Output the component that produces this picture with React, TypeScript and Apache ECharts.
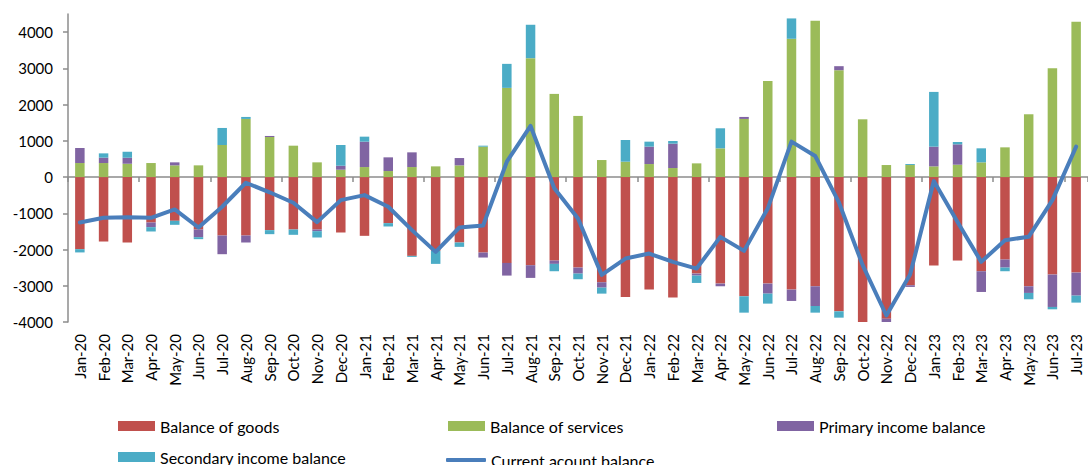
import React, { useEffect, useRef } from "react";
import * as echarts from "echarts";

const categories = [
  "Jan-20","Feb-20","Mar-20","Apr-20","May-20","Jun-20","Jul-20","Aug-20","Sep-20","Oct-20","Nov-20","Dec-20",
  "Jan-21","Feb-21","Mar-21","Apr-21","May-21","Jun-21","Jul-21","Aug-21","Sep-21","Oct-21","Nov-21","Dec-21",
  "Jan-22","Feb-22","Mar-22","Apr-22","May-22","Jun-22","Jul-22","Aug-22","Sep-22","Oct-22","Nov-22","Dec-22",
  "Jan-23","Feb-23","Mar-23","Apr-23","May-23","Jun-23","Jul-23"
];

const goods = [
  -1990,-1779,-1806,-1253,-1207,-1447,-1613,-1613,-1465,-1447,-1447,-1530,
  -1622,-1272,-2175,-2037,-1806,-2083,-2369,-2433,-2304,-2498,-2903,-3309,
  -3106,-3327,-2664,-2940,-3290,-2940,-3106,-3014,-3705,-4018,-3908,-2986,
  -2442,-2304,-2599,-2276,-3014,-2691,-2636
];

const services = [
  387,387,369,387,323,323,885,1604,1106,866,406,203,
  276,166,276,295,323,839,2461,3281,2295,1687,470,424,
  359,249,378,793,1604,2654,3816,4313,2949,1594,332,332,
  295,341,406,820,1733,3005,4286
];

const primary = [
  415,148,166,-129,83,-212,-516,-193,28,0,-46,110,
  701,378,406,0,202,-138,-350,-350,-92,-166,-148,0,
  480,673,-55,-74,55,-277,-313,-544,111,0,-110,-46,
  544,562,-572,-222,-184,-894,-636
];

const secondary = [
  -90,119,165,-120,-111,-55,470,55,-111,-147,-175,572,
  138,-92,-28,-359,-120,27,663,922,-203,-156,-166,599,
  138,73,-203,553,-452,-276,562,-184,-175,0,0,27,
  1511,65,387,-101,-175,-65,-193
];

const current = [
  -1253,-1124,-1106,-1124,-894,-1392,-820,-157,-420,-710,-1244,-636,
  -498,-820,-1465,-2065,-1392,-1336,424,1410,-310,-1143,-2700,-2249,
  -2111,-2341,-2525,-1650,-2037,-866,977,581,-700,-2430,-3820,-2690,
  -111,-1240,-2341,-1742,-1650,-636,839
];

const yTicks = [-4000,-3000,-2000,-1000,0,1000,2000,3000,4000];

const FONT = "Lato";

export default function App() {
  const ref = useRef<HTMLDivElement>(null);

  useEffect(() => {
    document.body.style.margin = "0";
    if (!ref.current) return;
    const chart = echarts.init(ref.current, null, { renderer: "svg" });

    const barSeries = (name: string, data: number[], color: string) => ({
      name,
      type: "bar",
      stack: "total",
      data,
      barWidth: "40%",
      itemStyle: { color },
      xAxisIndex: 0,
      yAxisIndex: 0,
    });

    const legendText = { fontFamily: FONT, fontSize: 16, color: "#000" };
    const mkLegend = (name: string, left: number, top: number, isLine = false) => ({
      data: [{ name, icon: isLine ? "roundRect" : "rect" }],
      left,
      top: isLine ? top + 3 : top,
      itemWidth: isLine ? 40 : 37,
      itemHeight: isLine ? 4 : 10,
      itemGap: 5,
      textStyle: legendText,
      selectedMode: false,
    });

    chart.setOption({
      animation: false,
      backgroundColor: "#fff",
      grid: { left: 68, right: 0, top: 14, bottom: 143, containLabel: false },
      legend: [
        mkLegend("Balance of goods", 113, 413),
        mkLegend("Balance of services", 443, 413),
        mkLegend("Primary income balance", 772, 413),
        mkLegend("Secondary income balance", 113, 444),
        mkLegend("Current acount balance", 441, 444, true),
      ],
      xAxis: [
        {
          type: "category",
          data: categories,
          position: "bottom",
          axisLine: { onZero: true, lineStyle: { color: "#8c8c8c", width: 1.5 } },
          axisTick: { show: true, length: 5, lineStyle: { color: "#8c8c8c", width: 1.5 } },
          axisLabel: { show: false },
          splitLine: { show: false },
        },
        {
          type: "category",
          data: categories,
          position: "bottom",
          axisLine: { show: false, onZero: false },
          axisTick: { show: false },
          axisLabel: {
            show: true,
            rotate: 90,
            interval: 0,
            margin: 12,
            fontFamily: FONT,
            fontSize: 15,
            color: "#000",
          },
          splitLine: { show: false },
        },
      ],
      yAxis: {
        type: "value",
        min: -4000,
        max: 4500,
        interval: 500,
        axisLine: { show: true, lineStyle: { color: "#8c8c8c", width: 1.5 } },
        axisTick: { show: true, length: 5, customValues: yTicks, lineStyle: { color: "#8c8c8c", width: 1.5 } },
        axisLabel: {
          customValues: yTicks,
          formatter: (v: number) => String(v),
          margin: 15,
          fontFamily: FONT,
          fontSize: 15,
          color: "#000",
        },
        splitLine: { show: false },
      },
      series: [
        barSeries("Balance of goods", goods, "#C0504D"),
        barSeries("Balance of services", services, "#9BBB59"),
        barSeries("Primary income balance", primary, "#8064A2"),
        barSeries("Secondary income balance", secondary, "#4BACC6"),
        {
          name: "Current acount balance",
          type: "line",
          data: current,
          symbol: "none",
          xAxisIndex: 0,
          yAxisIndex: 0,
          lineStyle: { color: "#4A7EBB", width: 4, cap: "round", join: "round" },
          itemStyle: { color: "#4A7EBB" },
          z: 5,
        },
      ],
    });

    return () => chart.dispose();
  }, []);

  return <div ref={ref} style={{ width: 1088, height: 465 }} />;
}
